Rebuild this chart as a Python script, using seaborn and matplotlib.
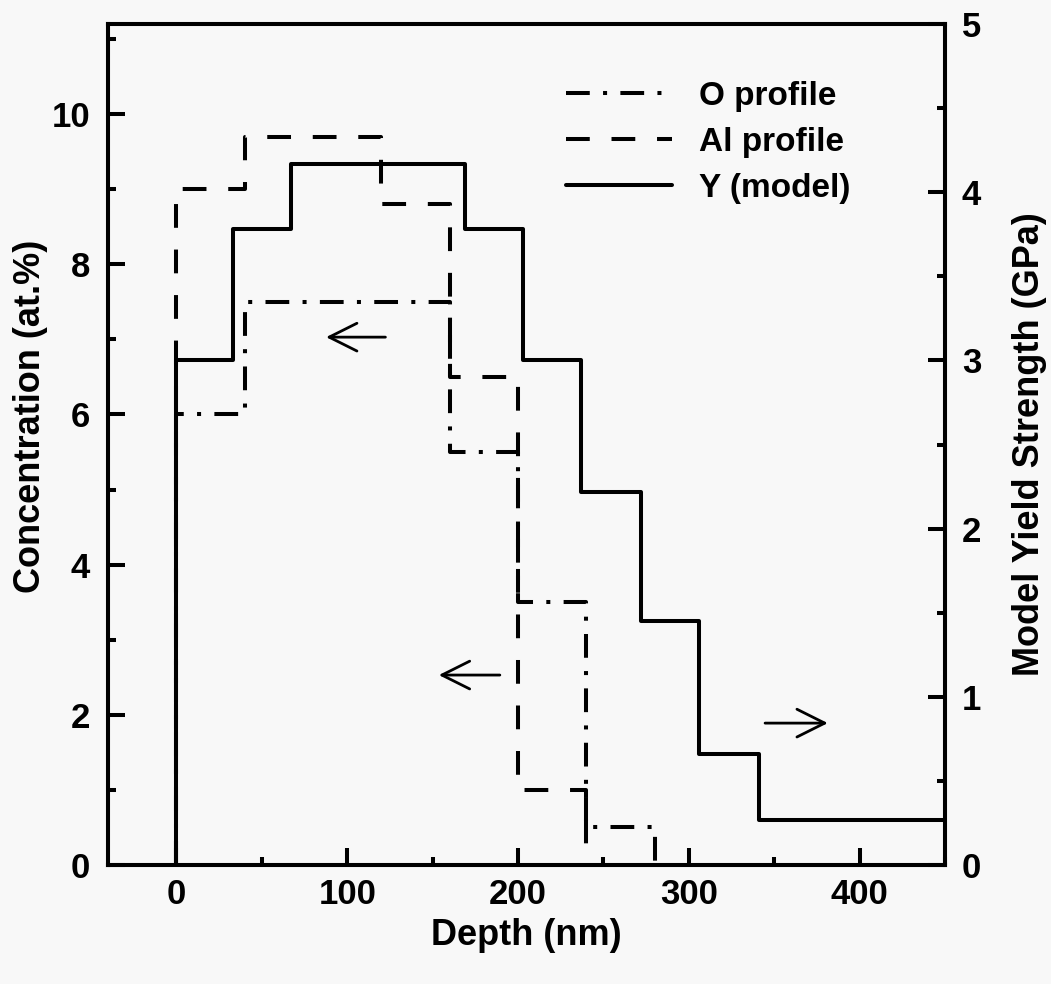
import pandas as pd
import matplotlib
matplotlib.use('Agg')
import matplotlib.pyplot as plt
from matplotlib.ticker import MultipleLocator
import seaborn as sns

# step edges (nm) and levels
o_edges = [0, 40, 160, 200, 240, 280]
o_conc = [6.0, 7.5, 5.5, 3.5, 0.5]            # at.%

al_edges = [0, 40, 120, 160, 200, 240]
al_conc = [9.0, 9.7, 8.8, 6.5, 1.0]           # at.%

y_edges = [0, 33, 67, 169, 203, 237, 272, 306, 341, 450]
y_gpa = [3.0, 3.78, 4.17, 3.78, 3.0, 2.22, 1.45, 0.66, 0.27]   # GPa


def step_frame(edges, vals, close=True):
    # outline for steps-post, rising from zero at the first edge
    x = [edges[0]] + list(edges)
    y = [0] + list(vals) + ([0] if close else [vals[-1]])
    return pd.DataFrame({'depth': x, 'val': y})


sns.set_style('ticks')
plt.rcParams['font.family'] = ['Liberation Sans', 'DejaVu Sans']
plt.rcParams['font.weight'] = 'bold'
plt.rcParams['axes.labelweight'] = 'bold'
for k in ('text.color', 'axes.labelcolor', 'xtick.color', 'ytick.color', 'axes.edgecolor'):
    plt.rcParams[k] = 'black'

bg = '#f8f8f8'
lw = 2.9

fig = plt.figure(figsize=(10.51, 9.84), dpi=100)
fig.patch.set_facecolor(bg)
ax = fig.add_axes([0.1028, 0.1209, 0.7964, 0.8547])
ax.set_facecolor(bg)
ax2 = ax.twinx()

sns.lineplot(data=step_frame(o_edges, o_conc), x='depth', y='val', ax=ax,
             drawstyle='steps-post', estimator=None, sort=False,
             color='black', linewidth=lw,
             linestyle=(0, (5.9, 3.3, 1.0, 3.3)), label='O profile')
sns.lineplot(data=step_frame(al_edges, al_conc), x='depth', y='val', ax=ax,
             drawstyle='steps-post', estimator=None, sort=False,
             color='black', linewidth=lw,
             linestyle=(0, (5.9, 5.4)), label='Al profile')
sns.lineplot(data=step_frame(y_edges, y_gpa, close=False), x='depth', y='val', ax=ax2,
             drawstyle='steps-post', estimator=None, sort=False,
             color='black', linewidth=lw, label='Y (model)')

ax.set_xlim(-40, 450)
ax.set_ylim(0, 11.2)
ax2.set_ylim(0, 5)

ax.xaxis.set_major_locator(MultipleLocator(100))
ax.xaxis.set_minor_locator(MultipleLocator(50))
ax.yaxis.set_major_locator(MultipleLocator(2))
ax.yaxis.set_minor_locator(MultipleLocator(1))
ax2.yaxis.set_major_locator(MultipleLocator(1))
ax2.yaxis.set_minor_locator(MultipleLocator(0.5))

ax.tick_params(which='both', direction='in', width=lw, top=False, right=False)
ax.tick_params(which='major', length=12, labelsize=25)
ax.tick_params(which='minor', length=6)
ax.tick_params(axis='y', pad=13)
ax.tick_params(axis='x', pad=9)
ax2.tick_params(which='both', direction='in', width=lw, pad=12)
ax2.tick_params(which='major', length=12, labelsize=25)
ax2.tick_params(which='minor', length=6)

for a in (ax, ax2):
    for s in a.spines.values():
        s.set_linewidth(lw)
        s.set_color('black')

ax.set_xlabel('Depth (nm)', fontsize=26)
ax.set_ylabel('Concentration (at.%)', fontsize=26)
ax2.set_ylabel('Model Yield Strength (GPa)', fontsize=26)
ax.xaxis.set_label_coords(0.5, -0.063)
ax.yaxis.set_label_coords(-0.072, 0.534)
ax2.yaxis.set_label_coords(1.080, 0.5)

# arrows pointing to the axis each curve belongs to
arrow = dict(arrowstyle='->', color='black', lw=2, mutation_scale=50)
ax.annotate('', xy=(86, 7.03), xytext=(124, 7.03), arrowprops=arrow)
ax.annotate('', xy=(152, 2.53), xytext=(191, 2.53), arrowprops=arrow)
ax.annotate('', xy=(383, 1.89), xytext=(343, 1.89), arrowprops=arrow)

for a in (ax, ax2):
    if a.get_legend() is not None:
        a.get_legend().remove()
h1, l1 = ax.get_legend_handles_labels()
h2, l2 = ax2.get_legend_handles_labels()
ax2.legend(h1 + h2, l1 + l2, loc='upper left', bbox_to_anchor=(0.5225, 0.935),
           bbox_transform=fig.transFigure, frameon=False, fontsize=24,
           handlelength=3.2, handletextpad=0.8, labelspacing=0.45, borderpad=0)

fig.savefig('out.png', dpi=100, facecolor=fig.get_facecolor())
